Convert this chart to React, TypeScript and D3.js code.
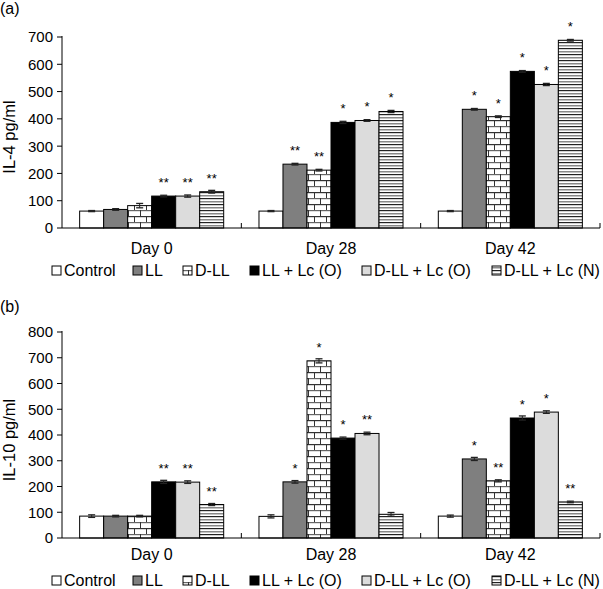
import React from "react";
import * as d3 from "d3";

const categories = ["Day 0", "Day 28", "Day 42"];
const groups = ["Control", "LL", "D-LL", "LL + Lc (O)", "D-LL + Lc (O)", "D-LL + Lc (N)"];

// IL-4 (panel a), per day, per group
const il4Day0 = [62, 68, 82, 117, 117, 133];
const il4Day28 = [62, 234, 212, 387, 394, 427];
const il4Day42 = [62, 435, 408, 574, 526, 688];
const il4ErrDay0 = [2, 3, 8, 3, 4, 5];
const il4ErrDay28 = [2, 3, 3, 4, 3, 4];
const il4ErrDay42 = [2, 3, 3, 3, 4, 3];
const il4StarsDay0 = ["", "", "", "**", "**", "**"];
const il4StarsDay28 = ["", "**", "**", "*", "*", "*"];
const il4StarsDay42 = ["", "*", "*", "*", "*", "*"];
const il4Ticks = [0, 100, 200, 300, 400, 500, 600, 700];

// IL-10 (panel b)
const il10Day0 = [85, 85, 85, 218, 217, 130];
const il10Day28 = [84, 218, 688, 388, 406, 92];
const il10Day42 = [85, 307, 222, 466, 489, 140];
const il10ErrDay0 = [5, 3, 3, 6, 5, 4];
const il10ErrDay28 = [6, 5, 8, 4, 5, 7];
const il10ErrDay42 = [4, 6, 4, 8, 5, 3];
const il10StarsDay0 = ["", "", "", "**", "**", "**"];
const il10StarsDay28 = ["", "*", "*", "*", "**", ""];
const il10StarsDay42 = ["", "*", "**", "*", "*", "**"];
const il10Ticks = [0, 100, 200, 300, 400, 500, 600, 700, 800];

const FONT = "'Liberation Sans', Arial, Helvetica, sans-serif";
const fills = ["#ffffff", "#7f7f7f", "url(#brick)", "#000000", "#dcdcdc", "url(#stripes)"];

type PanelProps = {
  label: string;
  title: string;
  values: number[][];
  errs: number[][];
  stars: string[][];
  ticks: number[];
  top: number;
  bottom: number;
  titleY: number;
  labelY: number;
  dayY: number;
  legendY: number;
};

const X0 = 62;
const X1 = 600;
const legendBoxX = [52, 133, 183, 250, 362, 492];

function Panel(p: PanelProps) {
  const yMax = p.ticks[p.ticks.length - 1];
  const y = d3.scaleLinear().domain([0, yMax]).range([p.bottom, p.top]);
  const xDay = d3.scaleBand<string>().domain(categories).range([X0, X1]).padding(0);
  const xGroup = d3
    .scaleBand<string>()
    .domain(groups)
    .range([0, xDay.bandwidth()])
    .paddingInner(0)
    .paddingOuter(0.735);
  const bw = xGroup.bandwidth();
  return (
    <g>
      <text x={0} y={p.labelY} fontSize={16} fontFamily={FONT}>{p.label}</text>
      <text
        transform={`translate(15,${p.titleY}) rotate(-90)`}
        textAnchor="middle"
        fontSize={16.5}
        fontFamily={FONT}
      >
        {p.title}
      </text>
      {p.ticks.map((t) => (
        <g key={t}>
          <line x1={X0 - 5} x2={X0} y1={y(t)} y2={y(t)} stroke="#000" strokeWidth={1} />
          <text
            x={X0 - 9}
            y={y(t)}
            dy="0.36em"
            textAnchor="end"
            fontSize={15}
            fontFamily={FONT}
          >
            {t}
          </text>
        </g>
      ))}
      {categories.map((c, ci) => (
        <g key={c}>
          {groups.map((g, gi) => {
            const v = p.values[ci][gi];
            const e = p.errs[ci][gi];
            const x = (xDay(c) as number) + (xGroup(g) as number);
            const cx = x + bw / 2;
            const s = p.stars[ci][gi];
            return (
              <g key={g}>
                <rect
                  x={x}
                  y={y(v)}
                  width={bw}
                  height={p.bottom - y(v)}
                  fill={fills[gi]}
                  stroke="#000"
                  strokeWidth={1}
                />
                <line x1={cx} x2={cx} y1={y(v + e)} y2={y(Math.max(0, v - e))} stroke="#222" strokeWidth={1} />
                <line x1={cx - 3.5} x2={cx + 3.5} y1={y(v + e)} y2={y(v + e)} stroke="#222" strokeWidth={1.3} />
                <line x1={cx - 3.5} x2={cx + 3.5} y1={y(v - e)} y2={y(v - e)} stroke="#222" strokeWidth={1.3} />
                {s && (
                  <text
                    x={cx}
                    y={y(v) - 9}
                    textAnchor="middle"
                    fontSize={13}
                    fontFamily={FONT}
                  >
                    {s}
                  </text>
                )}
              </g>
            );
          })}
          <text
            x={(xDay(c) as number) + xDay.bandwidth() / 2}
            y={p.dayY}
            textAnchor="middle"
            fontSize={16}
            fontFamily={FONT}
          >
            {c}
          </text>
          <line
            x1={(xDay(c) as number) + xDay.bandwidth()}
            x2={(xDay(c) as number) + xDay.bandwidth()}
            y1={p.bottom}
            y2={p.bottom - 5}
            stroke="#000"
            strokeWidth={1}
          />
        </g>
      ))}
      <line x1={X0} x2={X0} y1={p.top - 1} y2={p.bottom} stroke="#000" strokeWidth={1} />
      <line x1={X0} x2={X1} y1={p.bottom} y2={p.bottom} stroke="#000" strokeWidth={1} />
      {groups.map((g, gi) => (
        <g key={g}>
          <rect
            x={legendBoxX[gi]}
            y={p.legendY - 10}
            width={9}
            height={9}
            fill={fills[gi]}
            stroke="#000"
            strokeWidth={1}
          />
          <text x={legendBoxX[gi] + 12} y={p.legendY} fontSize={16} fontFamily={FONT}>
            {g}
          </text>
        </g>
      ))}
    </g>
  );
}

export default function App() {
  return (
    <svg
      width={603}
      height={589}
      style={{ position: "absolute", left: 0, top: 0, background: "#fff" }}
    >
      <defs>
        <pattern id="brick" patternUnits="userSpaceOnUse" width={12} height={12}>
          <rect width={12} height={12} fill="#fff" />
          <rect x={0} y={0} width={12} height={1.2} fill="#333" />
          <rect x={0} y={6} width={12} height={1.2} fill="#666" />
          <rect x={2} y={0} width={1} height={6} fill="#333" />
          <rect x={8} y={6} width={1} height={6} fill="#333" />
        </pattern>
        <pattern id="stripes" patternUnits="userSpaceOnUse" width={12} height={6}>
          <rect width={12} height={6} fill="#fff" />
          <rect x={0} y={0} width={12} height={1.2} fill="#222" />
          <rect x={0} y={3} width={12} height={1.5} fill="#888" />
        </pattern>
      </defs>
      <rect width={603} height={589} fill="#fff" />
      <Panel
        label="(a)"
        title="IL-4 pg/ml"
        values={[il4Day0, il4Day28, il4Day42]}
        errs={[il4ErrDay0, il4ErrDay28, il4ErrDay42]}
        stars={[il4StarsDay0, il4StarsDay28, il4StarsDay42]}
        ticks={il4Ticks}
        top={37}
        bottom={228}
        titleY={137}
        labelY={14}
        dayY={254}
        legendY={276}
      />
      <Panel
        label="(b)"
        title="IL-10 pg/ml"
        values={[il10Day0, il10Day28, il10Day42]}
        errs={[il10ErrDay0, il10ErrDay28, il10ErrDay42]}
        stars={[il10StarsDay0, il10StarsDay28, il10StarsDay42]}
        ticks={il10Ticks}
        top={332}
        bottom={538}
        titleY={440}
        labelY={312}
        dayY={560}
        legendY={586}
      />
    </svg>
  );
}
